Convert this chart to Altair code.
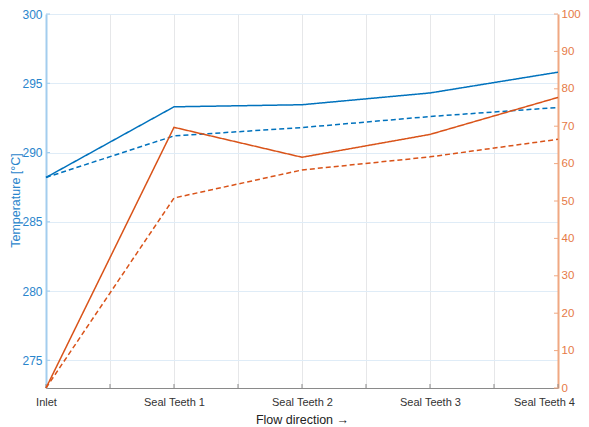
import altair as alt
import pandas as pd

positions = ["Inlet", "Seal Teeth 1", "Seal Teeth 2", "Seal Teeth 3", "Seal Teeth 4"]
temp_solid = [288.2, 293.3, 293.45, 294.3, 295.8]
temp_dashed = [288.2, 291.2, 291.8, 292.6, 293.25]
right_solid = [0.0, 69.7, 61.7, 67.8, 77.7]
right_dashed = [0.0, 50.8, 58.3, 61.8, 66.5]
left_ticks = [275, 280, 285, 290, 295, 300]
right_ticks = [0, 10, 20, 30, 40, 50, 60, 70, 80, 90, 100]
x_ticks = [0, 0.5, 1, 1.5, 2, 2.5, 3, 3.5, 4]

BLUE = "#0072BD"
ORANGE = "#D95319"
BLUE_TXT = "#2a85cc"
ORANGE_TXT = "#e67a46"

W, H = 512, 374

def frame(a, b):
    rows = []
    for i, p in enumerate(positions):
        rows.append({"idx": i, "name": p, "series": "solid", "value": a[i]})
        rows.append({"idx": i, "name": p, "series": "dashed", "value": b[i]})
    return pd.DataFrame(rows)

left_df = frame(temp_solid, temp_dashed)
right_df = frame(right_solid, right_dashed)
xt_df = pd.DataFrame({"idx": x_ticks})
lt_df = pd.DataFrame({"value": left_ticks})
rt_df = pd.DataFrame({"value": right_ticks})

names_js = "[" + ",".join("'" + p + "'" for p in positions) + "]"
x_scale = alt.Scale(domain=[0, 4], nice=False, zero=False)
x_axis = alt.Axis(
    values=x_ticks,
    labelExpr=f"datum.value % 1 == 0 ? {names_js}[datum.value] : ''",
    labelOffset={"condition": {"test": "datum.value == 4", "value": -14}, "value": 0},
    title="Flow direction \u2192",
    grid=True,
    gridColor="#e6e7e9",
    gridWidth=1,
    domainColor="#8a8a8a",
    domainWidth=1,
    tickSize=0,
    labelPadding=8,
    labelColor="#333333",
    labelFontSize=11,
    labelFont="Liberation Sans",
    labelFlush=False,
    labelOverlap=False,
    titleFont="Liberation Sans",
    titleFontSize=12.5,
    titleFontWeight="normal",
    titleColor="#222222",
    titleBaseline="middle",
    titleY=31,
)
left_scale = alt.Scale(domain=[273, 300], nice=False, zero=False)
left_axis = alt.Axis(
    values=left_ticks,
    orient="left",
    grid=True,
    gridColor="#dfecf7",
    domainColor="#a3cdee",
    domainWidth=2,
    tickSize=0,
    labelPadding=4,
    labelColor=BLUE_TXT,
    labelFontSize=12,
    labelFont="Liberation Sans",
    title="Temperature [\u00b0C]",
    titleColor=BLUE_TXT,
    titleFont="Liberation Sans",
    titleFontSize=12.5,
    titleFontWeight="normal",
    titleAngle=270,
    titleAlign="center",
    titleBaseline="middle",
    titleX=-31,
    titleY=186,
)
right_scale = alt.Scale(domain=[0, 100], nice=False, zero=False)
right_axis = alt.Axis(
    values=right_ticks,
    orient="right",
    grid=False,
    domainColor="#f0a882",
    domainWidth=2,
    tickSize=0,
    labelPadding=3,
    labelColor=ORANGE_TXT,
    labelFontSize=11.5,
    labelFont="Liberation Sans",
    title=None,
)

dash = alt.StrokeDash(
    "series:N",
    scale=alt.Scale(domain=["solid", "dashed"], range=[[1, 0], [5, 3]]),
    legend=None,
)

x_enc = alt.X("idx:Q", scale=x_scale, axis=x_axis)

left_lines = alt.Chart(left_df).mark_line(color=BLUE, strokeWidth=1.5).encode(
    x=x_enc,
    y=alt.Y("value:Q", scale=left_scale, axis=left_axis),
    strokeDash=dash,
    detail="series:N",
)
left_tick_rules = alt.Chart(lt_df).mark_rule(color="#a3cdee", strokeWidth=1).encode(
    y=alt.Y("value:Q", scale=left_scale, axis=left_axis),
    x=alt.value(0),
    x2=alt.value(4),
)
x_tick_rules = alt.Chart(xt_df).mark_rule(color="#8a8a8a", strokeWidth=1).encode(
    x=x_enc,
    y=alt.value(H),
    y2=alt.value(H - 4),
)
left = alt.layer(left_lines, left_tick_rules, x_tick_rules)

right_lines = alt.Chart(right_df).mark_line(color=ORANGE, strokeWidth=1.5).encode(
    x=x_enc,
    y=alt.Y("value:Q", scale=right_scale, axis=right_axis),
    strokeDash=dash,
    detail="series:N",
)
right_tick_rules = alt.Chart(rt_df).mark_rule(color="#f0a882", strokeWidth=1).encode(
    y=alt.Y("value:Q", scale=right_scale, axis=right_axis),
    x=alt.value(W),
    x2=alt.value(W - 4),
)
right = alt.layer(right_lines, right_tick_rules)

chart = (
    alt.layer(left, right)
    .resolve_scale(y="independent", strokeDash="shared")
    .properties(
        width=W,
        height=H,
        autosize=alt.AutoSizeParams(type="none"),
        padding={"left": 38, "top": 6, "right": 23, "bottom": 39},
        background="white",
    )
    .configure_view(stroke=None)
)

chart.save("out.html", embed_options={"renderer": "svg", "actions": False})
